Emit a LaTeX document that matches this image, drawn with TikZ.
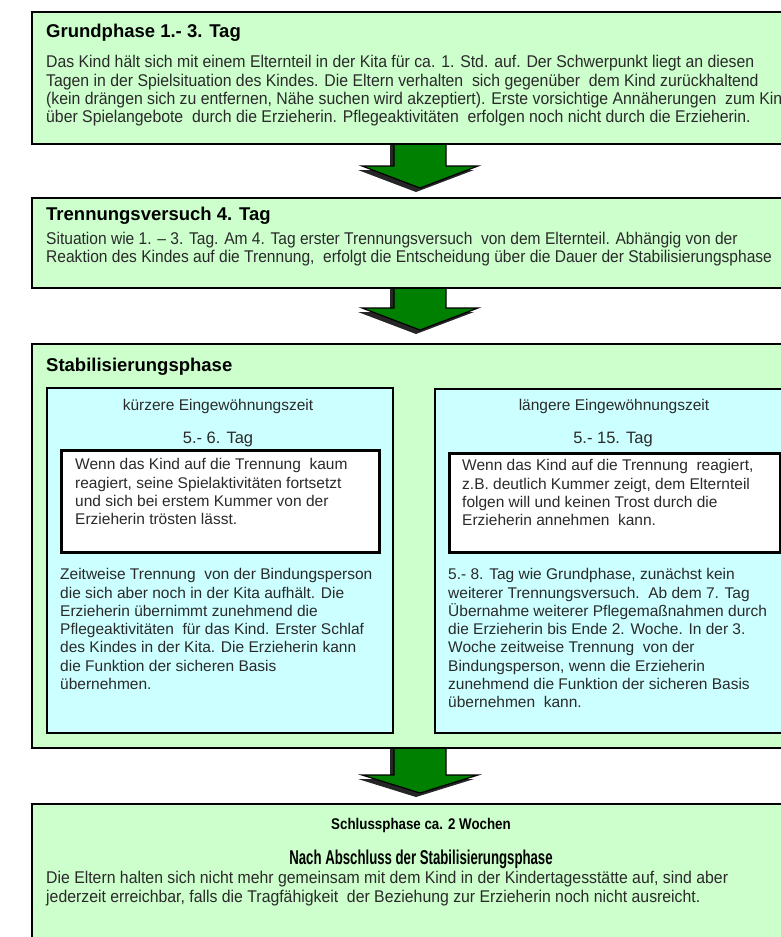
\documentclass[tikz,border=0pt]{standalone}
\usepackage{fontspec}
\setmainfont{Liberation Sans}
\newfontfamily\narf[FakeStretch=0.93]{Liberation Sans}
\newfontfamily\narg[FakeStretch=0.915]{Liberation Sans}
\newfontfamily\narb[FakeStretch=0.86]{Liberation Sans Bold}
\newfontfamily\narc[FakeStretch=0.66]{Liberation Sans Bold}
\definecolor{lgreen}{HTML}{CCFFCC}
\definecolor{lcyan}{HTML}{CCFFFF}
\definecolor{agreen}{HTML}{008000}
\definecolor{txt}{HTML}{2A2A2A}
\tikzset{
  gbox/.style={draw=black, line width=2.3pt, fill=lgreen, anchor=north west, inner sep=0},
  cbox/.style={draw=black, line width=2.3pt, fill=lcyan, anchor=north west, inner sep=0},
  wbox/.style={draw=black, line width=2.8pt, fill=white, anchor=north west, inner sep=0},
  ttl/.style={anchor=base west, inner sep=0, font=\bfseries\fontsize{18.5}{22}\selectfont, text=black},
  nbody/.style={anchor=north west, inner sep=0, align=left, text=txt, font=\narf\fontsize{17}{18.3}\selectfont},
  ibody/.style={anchor=north west, inner sep=0, align=left, text=txt, font=\fontsize{15.5}{18.3}\selectfont},
  clab/.style={anchor=base, inner sep=0, text=txt, font=\fontsize{15.5}{18}\selectfont},
  arrowshape/.style={fill=agreen, draw=black, line width=1.2pt, line join=miter},
  arrowshadow/.style={fill=black!85}
}
\begin{document}
\begin{tikzpicture}[x=1pt, y=-1pt]
\useasboundingbox (0,0) rectangle (781,937);
\fill[white] (0,0) rectangle (781,937);
\clip (0,0) rectangle (781,937);

% arrows
\foreach \st/\ht/\tp in {141/166/188, 285/308/330, 745/775/793}{
  \fill[arrowshadow] (394-4,\st) -- (394-4,\ht+4) -- (362-4,\ht+4) -- (420-4,\tp+4) -- (478-4,\ht+4) -- (446-4,\ht+4) -- (446-4,\st) -- cycle;
  \draw[arrowshape] (394,\st) -- (394,\ht) -- (362,\ht) -- (420,\tp) -- (478,\ht) -- (446,\ht) -- (446,\st) -- cycle;
}

% phase boxes
\node[gbox, minimum width=790, minimum height=132] (g1) at (31,11) {};
\node[gbox, minimum width=790, minimum height=90] (g2) at (31,197) {};
\node[gbox, minimum width=790, minimum height=404] (g3) at (31,343) {};
\node[gbox, minimum width=790, minimum height=170] (g4) at (31,803) {};

\node[cbox, minimum width=346, minimum height=345] (c1) at (46,387) {};
\node[cbox, minimum width=400, minimum height=344] (c2) at (434,388) {};
\node[wbox, minimum width=318, minimum height=102] (w1) at (60,449) {};
\node[wbox, minimum width=331, minimum height=99] (w2) at (448,452) {};

% box 1
\node[ttl] (t1) at (46,37) {Grundphase 1.- 3. Tag};
\node[nbody] (p1) at (46,54.7) {\strut Das Kind hält sich mit einem Elternteil in der Kita für ca. 1. Std. auf. Der Schwerpunkt liegt an diesen\\
Tagen in der Spielsituation des Kindes. Die Eltern verhalten\ \ sich gegenüber\ \ dem Kind zurückhaltend\\
(kein drängen sich zu entfernen, Nähe suchen wird akzeptiert). Erste vorsichtige Annäherungen\ \ zum Kin\\
über Spielangebote\ \ durch die Erzieherin. Pflegeaktivitäten\ \ erfolgen noch nicht durch die Erzieherin.};

% box 2
\node[ttl] (t2) at (46,220) {Trennungsversuch 4. Tag};
\node[nbody, font=\narg\fontsize{17}{18}\selectfont] (p2) at (46,231.9) {\strut Situation wie 1. – 3. Tag. Am 4. Tag erster Trennungsversuch\ \ von dem Elternteil. Abhängig von der\\
Reaktion des Kindes auf die Trennung,\ \ erfolgt die Entscheidung über die Dauer der Stabilisierungsphase};

% box 3
\node[ttl] (t3) at (46,371) {Stabilisierungsphase};
\node[clab] (k1) at (218,410) {kürzere Eingewöhnungszeit};
\node[clab, font=\fontsize{16.5}{18}\selectfont] (d1) at (218,443) {5.- 6. Tag};
\node[ibody] (wt1) at (75,456.7) {\strut Wenn das Kind auf die Trennung\ \ kaum\\
reagiert,\ seine Spielaktivitäten\ fortsetzt\\
und sich bei erstem Kummer von\ der\\
Erzieherin trösten lässt.};
\node[ibody] (lt1) at (60,566.7) {\strut Zeitweise Trennung\ \ von der Bindungsperson\\
die sich aber noch in der Kita aufhält. Die\\
Erzieherin übernimmt zunehmend\ die\\
Pflegeaktivitäten\ \ für das Kind. Erster Schlaf\\
des Kindes in der Kita. Die Erzieherin kann\\
die Funktion der sicheren Basis\\
übernehmen.};

\node[clab] (k2) at (614,410) {längere Eingewöhnungszeit};
\node[clab, font=\fontsize{16.5}{18}\selectfont] (d2) at (613,443) {5.- 15. Tag};
\node[ibody] (wt2) at (462,457.7) {\strut Wenn das Kind auf die Trennung\ \ reagiert,\\
z.B. deutlich Kummer zeigt, dem Elternteil\\
folgen will und keinen Trost durch die\\
Erzieherin annehmen\ \ kann.};
\node[ibody] (lt2) at (448,566.7) {\strut 5.- 8. Tag wie Grundphase, zunächst kein\\
weiterer Trennungsversuch.\ \ Ab dem 7. Tag\\
Übernahme\ weiterer\ Pflegemaßnahmen\ durch\\
die Erzieherin bis Ende 2. Woche. In der 3.\\
Woche zeitweise Trennung\ \ von der\\
Bindungsperson, wenn die Erzieherin\\
zunehmend die Funktion der sicheren Basis\\
übernehmen\ \ kann.};

% box 4
\node[anchor=base, inner sep=0, text=black, font=\narb\fontsize{15.5}{18}\selectfont] (s1) at (421,829) {Schlussphase ca. 2 Wochen};
\node[anchor=base, inner sep=0, text=black, font=\narc\fontsize{20}{22}\selectfont] (s2) at (421,864) {Nach Abschluss der Stabilisierungsphase};
\node[nbody, font=\narf\fontsize{17}{19}\selectfont] (p4) at (46,870.2) {\strut Die Eltern halten sich nicht mehr gemeinsam mit dem Kind in der Kindertagesstätte\ auf, sind aber\\
jederzeit erreichbar,\ falls die Tragfähigkeit\ \ der Beziehung\ zur Erzieherin\ noch nicht ausreicht.};
\end{tikzpicture}
\end{document}
